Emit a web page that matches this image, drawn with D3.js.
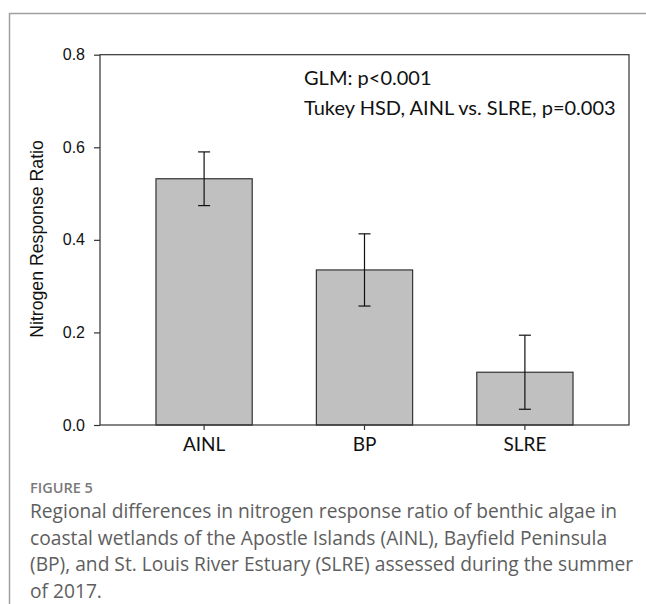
<!DOCTYPE html>
<html>
<head>
    <meta charset="utf-8">
    <script src="https://cdn.jsdelivr.net/npm/d3@7"></script>
    <style>
        body {
            margin: 0;
            background: white;
        }

        svg {
            display: block;
        }
    </style>
</head>
<body>
    <svg id="chart" width="646" height="604"></svg>
    <script>
        // data
        const regions = ["AINL", "BP", "SLRE"];
        const ratioMeans = [0.532, 0.335, 0.114];
        const ratioErrors = [0.058, 0.078, 0.080];
        const yTicks = [0.0, 0.2, 0.4, 0.6, 0.8];
        const statLines = ["GLM: p<0.001", "Tukey HSD, AINL vs. SLRE, p=0.003"];
        const captionLines = [
            "Regional differences in nitrogen response ratio of benthic algae in",
            "coastal wetlands of the Apostle Islands (AINL), Bayfield Peninsula",
            "(BP), and St. Louis River Estuary (SLRE) assessed during the summer",
            "of 2017."
        ];

        const svg = d3.select("#chart");

        // outer figure frame (only top and left are visible)
        svg.append("path")
            .attr("d", "M9.5,604 V13.5 H646")
            .attr("fill", "none")
            .attr("stroke", "#a0a0a0")
            .attr("stroke-width", 1.5);

        const plot = { left: 100, right: 629, top: 54.7, bottom: 425 };

        const x = d3.scaleBand()
            .domain(regions)
            .range([plot.left, plot.right])
            .paddingInner(0.4)
            .paddingOuter(0.349);

        const y = d3.scaleLinear()
            .domain([0, 0.8])
            .range([plot.bottom, plot.top]);

        // bars
        svg.append("g")
            .selectAll("rect")
            .data(regions)
            .enter()
            .append("rect")
            .attr("x", d => x(d))
            .attr("y", (d, i) => y(ratioMeans[i]))
            .attr("width", x.bandwidth())
            .attr("height", (d, i) => y(0) - y(ratioMeans[i]))
            .attr("fill", "#c0c0c0")
            .attr("stroke", "#333")
            .attr("stroke-width", 1.2);

        // error bars
        const errG = svg.append("g")
            .attr("stroke", "#111")
            .attr("stroke-width", 1.2);

        regions.forEach((r, i) => {
            const cx = x(r) + x.bandwidth() / 2;
            const hi = y(ratioMeans[i] + ratioErrors[i]);
            const lo = y(ratioMeans[i] - ratioErrors[i]);
            errG.append("line").attr("x1", cx).attr("x2", cx).attr("y1", hi).attr("y2", lo);
            errG.append("line").attr("x1", cx - 6).attr("x2", cx + 6).attr("y1", hi).attr("y2", hi);
            errG.append("line").attr("x1", cx - 6).attr("x2", cx + 6).attr("y1", lo).attr("y2", lo);
        });

        // plot frame
        svg.append("rect")
            .attr("x", plot.left)
            .attr("y", plot.top)
            .attr("width", plot.right - plot.left)
            .attr("height", plot.bottom - plot.top)
            .attr("fill", "none")
            .attr("stroke", "#333")
            .attr("stroke-width", 1.2);

        // y axis
        const yAxis = svg.append("g")
            .attr("transform", `translate(${plot.left},0)`)
            .call(d3.axisLeft(y).tickValues(yTicks).tickFormat(d3.format(".1f")).tickSize(6).tickSizeOuter(0).tickPadding(9));
        yAxis.select(".domain").remove();
        yAxis.selectAll("line").attr("stroke", "#333").attr("stroke-width", 1.2);
        yAxis.selectAll("text")
            .attr("font-family", "Arial, 'Liberation Sans', sans-serif")
            .attr("font-size", 16)
            .attr("fill", "#111");

        // x axis
        const xAxis = svg.append("g")
            .attr("transform", `translate(0,${plot.bottom})`)
            .call(d3.axisBottom(x).tickSize(5).tickSizeOuter(0).tickPadding(8));
        xAxis.select(".domain").remove();
        xAxis.selectAll("line").attr("stroke", "#333").attr("stroke-width", 1.2);
        xAxis.selectAll("text")
            .attr("font-family", "Lato, 'Open Sans', sans-serif")
            .attr("font-size", 19)
            .attr("fill", "#111");

        // y title
        svg.append("text")
            .attr("transform", "translate(43,239) rotate(-90)")
            .attr("text-anchor", "middle")
            .attr("font-family", "Arial, 'Liberation Sans', sans-serif")
            .attr("font-size", 17.7)
            .attr("fill", "#111")
            .text("Nitrogen Response Ratio");

        // stats annotation
        svg.append("g")
            .selectAll("text")
            .data(statLines)
            .enter()
            .append("text")
            .attr("x", 304)
            .attr("y", (d, i) => 85 + i * 30)
            .attr("font-family", "Lato, 'Open Sans', sans-serif")
            .attr("font-size", 20)
            .attr("fill", "#111")
            .text(d => d);

        // caption
        svg.append("text")
            .attr("x", 30)
            .attr("y", 493)
            .attr("font-family", "'Open Sans', sans-serif")
            .attr("font-size", 14.5)
            .attr("font-weight", 600)
            .attr("fill", "#7a7a7a")
            .text("FIGURE 5");

        svg.append("g")
            .selectAll("text")
            .data(captionLines)
            .enter()
            .append("text")
            .attr("x", 30)
            .attr("y", (d, i) => 518 + i * 26.5)
            .attr("font-family", "'Open Sans', sans-serif")
            .attr("font-size", 19.2)
            .attr("fill", "#5e5e5e")
            .text(d => d);
    </script>
</body>
</html>
